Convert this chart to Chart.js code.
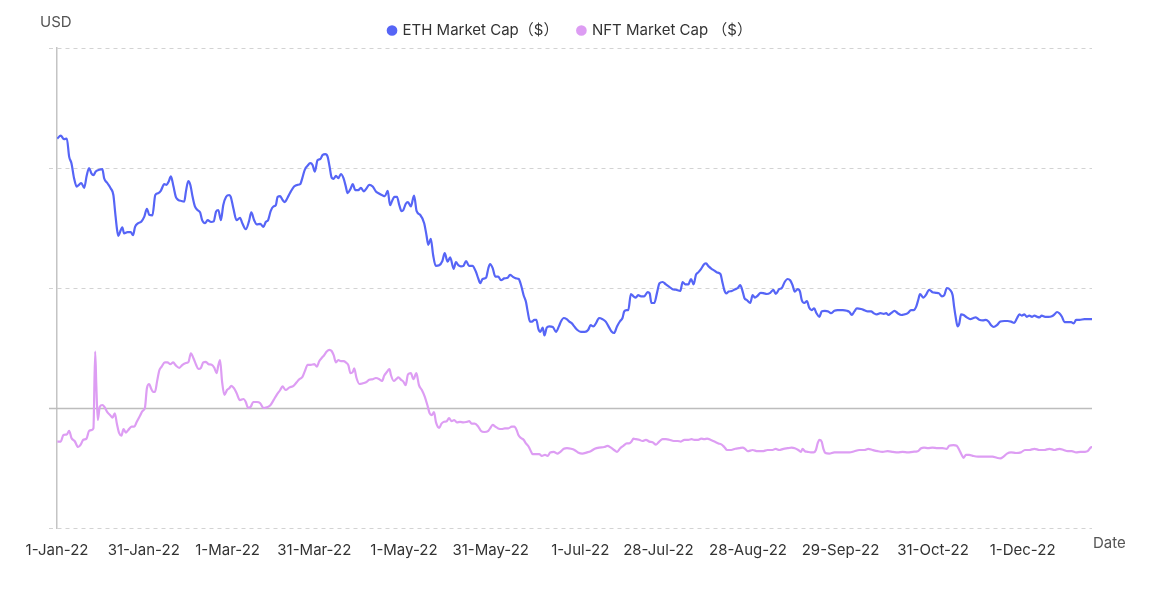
<!DOCTYPE html>
<html><head><meta charset="utf-8">
<script src="https://cdn.jsdelivr.net/npm/chart.js@4.4.1/dist/chart.umd.min.js"></script>
<style>html,body{margin:0;padding:0;background:#fff}#wrap{width:1152px;height:591px}</style>
</head><body><div id="wrap"><canvas id="c" width="1152" height="591"></canvas></div>
<script>
// x = days since 1-Jan-22, y = market cap (billion USD)
const ethDay = [0.1,1.3,2.4,3.4,4.2,5.0,5.9,6.8,7.6,8.4,9.4,10.3,11.1,11.9,12.6,13.4,14.6,15.7,16.3,17.4,18.6,19.5,20.1,20.7,21.2,22.1,22.6,23.2,24.4,25.5,26.3,27.0,28.1,29.2,30.2,31.1,31.9,33.0,34.0,35.0,35.9,37.1,37.9,38.6,39.4,40.3,41.1,41.9,43.1,44.0,44.6,45.4,46.1,46.9,47.7,48.6,49.5,50.2,51.2,52.1,53.3,54.2,55.0,55.8,56.7,57.5,58.5,59.6,60.1,61.0,62.1,63.3,64.1,65.3,66.4,67.2,68.2,69.1,70.3,71.4,72.2,73.0,73.9,74.9,75.7,76.3,77.2,78.0,78.8,79.7,80.9,82.0,83.2,84.1,84.9,85.7,86.7,87.6,88.4,89.2,90.1,91.1,91.9,92.8,93.6,94.3,95.0,95.7,96.5,97.3,98.2,99.1,99.9,100.5,101.5,102.3,103.2,104.2,105.1,106.1,106.9,108.0,109.2,110.3,111.5,112.7,113.4,114.4,115.2,115.9,116.7,117.6,118.4,119.2,119.8,120.6,121.4,122.4,123.5,124.4,125.6,127.0,127.8,128.4,129.3,130.1,131.0,132.2,133.3,134.1,135.1,136.0,137.2,138.0,138.8,139.7,140.6,141.5,142.5,143.7,144.9,145.7,146.4,147.2,148.4,149.2,149.8,150.7,151.6,152.6,153.6,154.7,155.9,156.7,157.6,158.8,159.7,160.5,161.4,162.2,162.8,163.6,164.3,165.1,165.8,166.5,167.2,168.0,168.6,169.4,170.3,171.5,172.6,173.6,174.4,175.3,176.3,177.2,178.1,178.9,180.0,181.2,182.6,183.7,184.6,185.5,186.4,187.5,188.7,189.8,191.0,191.9,192.7,193.7,194.8,195.6,196.2,197.0,197.6,198.5,199.4,200.2,201.0,202.0,203.1,204.3,205.0,205.6,206.6,207.5,208.4,209.5,210.6,211.8,212.9,214.1,215.6,216.4,217.3,218.4,219.3,220.2,221.0,221.8,222.8,223.9,224.5,225.4,226.4,227.4,228.3,229.5,230.1,230.8,231.5,232.3,233.4,234.6,235.5,236.3,237.0,237.8,238.6,239.8,240.6,241.4,242.3,243.4,244.6,245.5,246.7,247.8,248.6,249.8,250.7,251.7,252.7,253.6,254.4,255.2,256.2,257.0,257.6,258.5,259.4,260.2,261.0,261.9,262.7,263.7,264.5,265.6,266.8,267.7,268.9,270.0,271.8,273.2,274.1,274.9,275.8,276.7,278.1,279.3,280.4,281.6,282.5,283.6,284.8,286.0,286.8,287.6,288.5,289.7,290.8,292.0,293.1,294.3,295.4,296.3,297.2,298.0,298.5,299.7,300.5,301.7,302.8,304.0,305.1,306.1,306.9,307.8,308.9,309.8,310.3,310.9,311.5,312.1,312.7,313.6,314.7,315.9,317.0,317.8,319.0,320.2,321.3,322.2,323.1,324.0,325.1,326.3,327.7,328.8,330.0,331.1,332.1,332.9,333.7,334.6,335.5,336.3,337.3,338.1,339.0,339.8,340.6,341.8,342.9,344.1,345.0,345.9,346.7,347.6,348.5,349.6,350.8,351.7,352.5,353.7,355.4,357.2,358.0];
const ethCap = [449,454,448,449,419,408,383,369,372,375,367,388,400,391,388,394,397,398,383,375,366,355,327,300,287,297,301,291,293,293,288,302,308,311,319,332,322,321,355,358,362,373,372,377,386,369,352,347,345,344,361,378,372,352,336,330,326,313,308,313,310,311,327,330,313,338,352,355,352,333,313,317,308,298,311,326,313,306,307,302,310,313,328,336,338,352,353,347,343,350,361,369,372,373,384,397,404,408,405,394,413,415,422,423,419,402,384,382,387,383,390,383,369,358,365,373,363,363,367,361,365,372,369,361,357,354,353,362,338,345,352,352,338,328,330,340,343,336,354,328,322,308,288,272,282,255,237,238,245,258,244,251,232,243,238,236,237,245,237,237,227,216,208,215,217,233,240,233,219,219,213,216,217,222,219,216,215,205,188,177,161,144,144,147,147,132,127,134,121,134,136,135,127,136,145,150,148,144,141,136,130,127,127,130,138,136,141,150,148,144,134,127,125,136,145,150,161,163,163,190,186,184,188,186,186,193,191,175,175,191,208,210,206,202,198,197,195,210,206,206,215,206,222,226,232,240,241,236,232,229,226,223,211,197,191,194,195,198,200,205,197,183,180,175,188,184,187,192,191,190,192,197,190,198,200,210,215,213,205,194,198,194,180,175,178,167,163,166,158,152,161,162,161,158,162,163,163,162,160,155,161,166,165,163,161,161,158,156,158,157,158,155,158,162,158,155,156,158,163,163,169,182,190,184,188,197,193,192,191,186,188,200,197,188,169,150,136,141,156,155,151,148,150,151,147,146,147,144,138,135,138,144,145,145,144,142,150,156,154,156,152,154,152,154,152,151,154,152,152,153,156,160,158,152,143,143,143,141,147,147,148,148,148];
const nftDay = [0.1,1.3,2.2,3.4,4.2,5.0,6.1,7.3,8.2,9.1,10.2,11.1,11.9,12.6,13.2,13.6,14.1,14.8,15.7,16.5,17.4,18.4,19.2,20.0,20.7,21.5,22.3,23.0,23.8,24.6,25.8,26.7,27.6,28.8,29.6,30.4,31.1,31.9,32.5,33.2,33.9,34.6,35.4,36.2,37.3,38.2,39.2,40.2,41.1,42.3,43.4,44.6,45.5,46.3,47.2,48.1,48.9,49.8,50.6,51.5,52.4,53.5,54.4,55.2,55.8,56.4,57.1,57.9,58.8,59.6,60.3,61.2,62.1,63.3,64.5,65.3,66.1,67.0,67.9,69.1,70.3,71.4,72.5,73.7,74.9,76.0,77.2,78.0,79.1,80.3,81.8,82.9,83.8,84.9,85.7,86.7,87.8,89.0,89.9,90.7,91.5,92.4,93.3,94.2,95.0,95.7,96.5,97.3,98.2,99.1,99.9,100.8,101.5,102.3,102.8,103.6,104.6,105.7,106.9,108.0,109.2,110.3,111.5,112.4,113.2,114.1,115.0,115.5,116.5,117.3,118.1,119.0,119.8,120.6,121.4,122.4,123.3,124.3,125.2,126.2,127.2,128.1,128.9,129.6,130.4,131.1,132.2,133.0,133.9,134.8,135.6,136.5,137.4,138.3,139.4,140.6,141.8,142.6,143.4,144.5,145.7,146.6,147.8,149.2,149.8,150.7,151.6,152.6,153.8,154.9,156.1,157.3,158.2,159.0,159.6,160.5,161.4,162.2,163.2,164.0,164.5,165.7,166.8,167.7,168.8,169.7,170.6,171.8,173.0,174.1,175.3,176.4,177.8,179.0,180.2,181.7,183.3,184.6,186.0,187.5,189.3,190.4,191.6,192.7,193.7,194.8,195.9,197.1,197.9,198.7,199.4,200.2,201.4,202.5,203.7,204.9,206.0,207.2,208.3,209.5,210.6,211.8,213.3,214.7,215.8,217.0,218.4,219.5,220.4,221.8,222.8,223.9,224.9,226.0,227.4,228.8,229.9,230.8,231.8,233.2,234.6,236.0,237.2,238.0,238.9,240.6,242.3,244.0,245.8,247.5,248.6,249.8,251.3,252.7,254.1,255.2,256.4,257.3,257.9,258.7,259.6,260.8,261.7,262.5,263.1,263.7,264.5,265.1,265.8,267.1,268.9,270.6,272.3,274.1,275.8,277.5,279.3,280.6,282.1,283.9,285.6,287.3,289.1,290.8,292.5,294.3,296.0,297.7,298.9,299.9,301.3,302.8,304.6,306.3,307.8,308.6,310.1,311.2,312.1,312.9,313.6,314.4,315.5,317.0,318.6,320.2,321.9,323.6,325.1,326.3,327.4,328.6,330.0,331.7,333.4,334.8,336.3,338.1,339.8,341.5,343.3,345.0,346.7,348.2,349.6,351.0,352.5,354.0,355.6,356.5,357.5,358.1];
const nftCap = [-56,-56,-45,-44,-38,-50,-55,-65,-61,-53,-51,-38,-37,-34,94,38,-20,2,5,1,-7,-12,-16,-9,-26,-42,-46,-35,-41,-37,-31,-31,-23,-12,-5,0,33,40,33,27,27,44,63,69,76,76,73,76,71,67,72,75,77,91,83,72,65,67,76,77,73,72,67,58,71,80,44,22,30,33,37,33,25,13,15,10,0,2,10,10,8,0,1,4,13,22,30,36,30,34,37,43,48,52,61,72,72,73,69,78,83,88,94,97,95,88,76,80,78,78,76,71,58,60,66,50,40,41,43,47,48,50,48,45,54,60,65,55,45,48,51,47,44,38,56,58,48,58,38,30,19,5,-9,-12,-7,-24,-33,-26,-23,-22,-17,-22,-20,-24,-23,-24,-23,-22,-26,-26,-31,-38,-40,-38,-34,-28,-31,-34,-35,-34,-34,-31,-31,-37,-45,-50,-53,-59,-65,-73,-77,-77,-77,-80,-78,-80,-74,-73,-76,-73,-68,-67,-68,-70,-74,-76,-74,-72,-68,-66,-65,-63,-66,-70,-73,-67,-63,-59,-59,-56,-51,-52,-53,-55,-53,-56,-57,-61,-56,-52,-52,-53,-55,-55,-56,-53,-53,-52,-53,-53,-51,-52,-51,-53,-56,-59,-61,-65,-70,-70,-68,-67,-66,-68,-72,-70,-72,-72,-70,-70,-68,-70,-68,-67,-66,-67,-70,-73,-68,-72,-73,-74,-74,-70,-59,-53,-56,-68,-75,-76,-74,-74,-74,-74,-72,-70,-70,-68,-70,-72,-73,-72,-73,-74,-73,-74,-73,-72,-67,-66,-67,-66,-67,-67,-68,-63,-62,-63,-70,-78,-83,-78,-78,-80,-81,-81,-81,-81,-83,-84,-81,-76,-74,-75,-74,-70,-70,-68,-70,-70,-68,-70,-68,-70,-72,-72,-74,-73,-73,-72,-66,-65];
const tickDays = [0,30,59,89,120,150,181,208,239,271,303,334];
const tickLabels = ['1-Jan-22','31-Jan-22','1-Mar-22','31-Mar-22','1-May-22','31-May-22','1-Jul-22','28-Jul-22','28-Aug-22','29-Sep-22','31-Oct-22','1-Dec-22'];
const yTicks = [-200,0,200,400,600];
const seriesNames = ['ETH Market Cap（$）','NFT Market Cap （$）'];

const zip = (xs, ys) => xs.slice(0, Math.min(xs.length, ys.length)).map((x, i) => ({x, y: ys[i]}));

const axisTitles = {
  id: 'axisTitles',
  beforeDatasetsDraw(chart) {
    const {ctx, scales: {x, y}} = chart;
    const py = Math.round(y.getPixelForValue(0)) + 0.5;
    ctx.save();
    ctx.strokeStyle = '#bdbdbd';
    ctx.lineWidth = 1.5;
    ctx.beginPath();
    ctx.moveTo(x.left - 8, py);
    ctx.lineTo(x.right, py);
    ctx.stroke();
    ctx.restore();
  },
  afterDraw(chart) {
    const {ctx, chartArea} = chart;
    ctx.save();
    ctx.fillStyle = '#555';
    ctx.font = '15px Inter, "Noto Sans", sans-serif';
    ctx.textBaseline = 'middle';
    ctx.textAlign = 'left';
    ctx.fillText('USD', chartArea.left - 17, 22);
    ctx.fillText('Date', chartArea.right + 1, chartArea.bottom + 15);
    ctx.restore();
  }
};

new Chart(document.getElementById('c'), {
  type: 'line',
  data: {
    datasets: [
      {label: seriesNames[0], data: zip(ethDay, ethCap), borderColor: '#5665f6', backgroundColor: '#5665f6', borderWidth: 2.2, pointRadius: 0, cubicInterpolationMode: 'monotone'},
      {label: seriesNames[1], data: zip(nftDay, nftCap), borderColor: '#dd9df3', backgroundColor: '#dd9df3', borderWidth: 2.2, pointRadius: 0, cubicInterpolationMode: 'monotone'}
    ]
  },
  options: {
    responsive: false,
    animation: false,
    events: [],
    layout: {padding: {left: 49, right: 60, top: 3, bottom: 19}},
    plugins: {
      legend: {
        position: 'top',
        labels: {usePointStyle: true, pointStyle: 'circle', boxWidth: 6, boxHeight: 6, padding: 20, color: '#333', font: {size: 15, family: 'Inter, "Noto Sans CJK SC", sans-serif'}}
      },
      tooltip: {enabled: false}
    },
    scales: {
      x: {
        type: 'linear', min: 0, max: 358,
        grid: {display: false, drawTicks: false},
        border: {display: false},
        afterBuildTicks: (s) => { s.ticks = tickDays.map(v => ({value: v})); },
        ticks: {autoSkip: false, maxRotation: 0, padding: 13, color: '#333', font: {size: 15, family: 'Inter, sans-serif'},
          callback: (v) => { const i = tickDays.indexOf(v); return i >= 0 ? tickLabels[i] : ''; }}
      },
      y: {
        min: -200, max: 600,
        afterBuildTicks: (s) => { s.ticks = yTicks.map(v => ({value: v})); },
        ticks: {display: false},
        grid: {
          color: (c) => c.tick && c.tick.value === 0 ? 'rgba(0,0,0,0)' : '#d3d3d3',
          tickColor: (c) => c.tick && c.tick.value === 0 ? '#bdbdbd' : '#d3d3d3',
          lineWidth: 1, tickLength: 8, drawTicks: true, tickBorderDash: [4, 4]
        },
        border: {display: true, color: '#c4c4c4', width: 1.5, dash: [4, 4]}
      }
    }
  },
  plugins: [axisTitles]
});
</script></body></html>
